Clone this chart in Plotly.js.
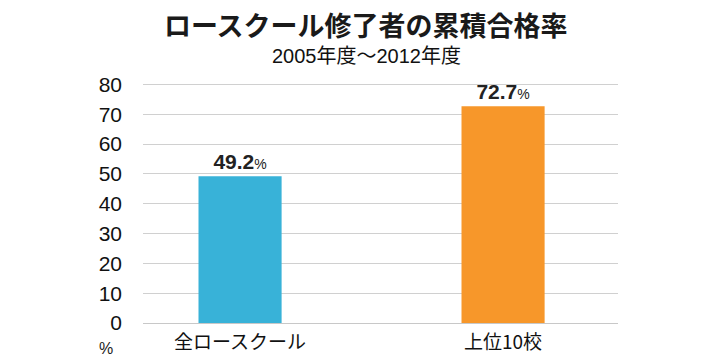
<!DOCTYPE html>
<html><head><meta charset="utf-8">
<script src="https://cdn.plot.ly/plotly-3.0.1.min.js"></script>
<style>html,body{margin:0;padding:0;background:#fff;}#chart{width:720px;height:360px;}</style>
</head><body><div id="chart"></div>
<script>
const categories = ["全ロースクール", "上位10校"];
const values = [49.2, 72.7];
const colors = ["#38B2D8", "#F7972A"];
const yTicks = [0, 10, 20, 30, 40, 50, 60, 70, 80];

const font = "Liberation Sans, Noto Sans CJK JP, sans-serif";
const cjk = "Noto Sans CJK JP, sans-serif";
const xpos = categories.map((c, i) => i);

const trace = {
  type: "bar",
  x: xpos,
  y: values,
  width: 0.316,
  marker: {color: colors, line: {width: 0}},
  text: values.map(v => "<b>" + v.toFixed(1) + "</b><span style='font-size:14px'>%</span>"),
  textposition: "outside",
  cliponaxis: false,
  textfont: {family: font, size: 21, color: "#222"},
  hoverinfo: "none"
};

const layout = {
  width: 720, height: 360,
  margin: {l: 143, r: 102, t: 83, b: 37},
  paper_bgcolor: "#fff", plot_bgcolor: "#fff",
  showlegend: false,
  title: {
    text: "<b>ロースクール修了者の累積合格率</b>",
    font: {family: cjk, size: 27, color: "#1a1a1a"},
    x: 0.508, xanchor: "center", y: 0.926, yanchor: "middle"
  },
  xaxis: {
    range: [-0.369, 1.437],
    tickvals: xpos, ticktext: categories,
    showgrid: false, zeroline: false, showline: false,
    ticks: "",
    ticklabelstandoff: 6,
    tickfont: {family: cjk, size: 19, color: "#111"},
    fixedrange: true
  },
  yaxis: {
    range: [0, 80.5],
    tickvals: yTicks,
    showgrid: true, gridcolor: "#d0d0d0", gridwidth: 1,
    zeroline: true, zerolinecolor: "#c8c8c8", zerolinewidth: 1,
    showline: false, ticks: "",
    ticklabelstandoff: 20,
    tickfont: {family: font, size: 21, color: "#111"},
    fixedrange: true
  },
  annotations: [
    {text: "2005年度～2012年度", xref: "paper", yref: "paper",
     x: 0.47, y: 1.112, xanchor: "center", yanchor: "middle", showarrow: false,
     font: {family: font, size: 20, color: "#111"}},
    {text: "%", xref: "paper", yref: "paper",
     x: -0.078, y: -0.108, xanchor: "center", yanchor: "middle", showarrow: false,
     font: {family: font, size: 16, color: "#222"}}
  ]
};

Plotly.newPlot("chart", [trace], layout, {displayModeBar: false, staticPlot: true});
</script>
</body></html>
